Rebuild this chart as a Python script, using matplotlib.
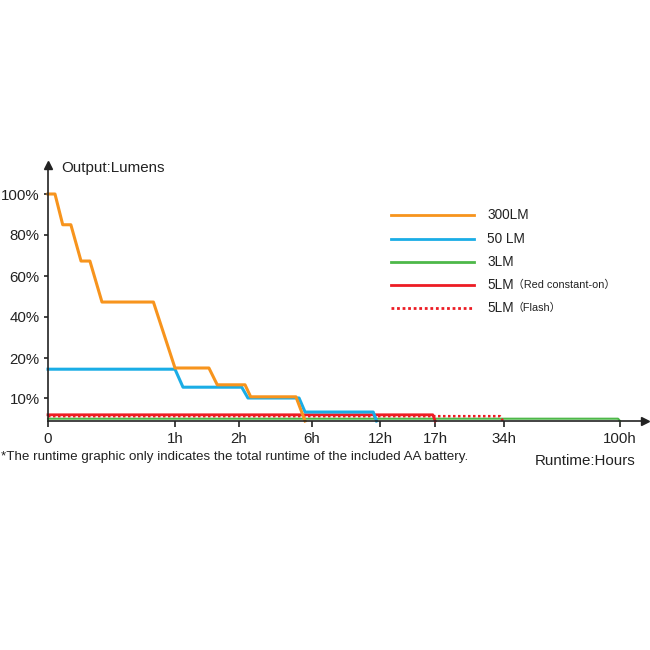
import matplotlib
matplotlib.use("Agg")
import matplotlib.pyplot as plt
from matplotlib.lines import Line2D
import numpy as np

plt.rcParams['font.family'] = ['Liberation Sans', 'DejaVu Sans']

# runtime curves, hours vs percent of max output
orange_h = [0, 0.055, 0.116, 0.18, 0.26, 0.33, 0.425, 0.83, 1.0, 1.53, 1.66, 2.33, 2.64, 5.12, 5.62]
orange_p = [100, 100, 85, 85, 67.3, 67.3, 47.3, 47.3, 17.5, 17.5, 13.3, 13.3, 10.3, 10.3, 0]

blue_h = [0, 1.0, 1.125, 2.15, 2.49, 5.29, 5.62, 11.4, 11.7]
blue_p = [17.2, 17.2, 12.7, 12.7, 10, 10, 3.9, 3.9, 0]

green_h = [0, 98.9, 100]
green_p = [1.0, 1.0, 0]

red_h = [0, 16.8, 17.05]
red_p = [2.7, 2.7, 0]

flash_h = [0, 33.0, 33.75]
flash_p = [2.1, 2.1, 0]

x_ticks = [0, 1, 2, 6, 12, 17, 34, 100]
x_labels = ['0', '1h', '2h', '6h', '12h', '17h', '34h', '100h']
y_ticks = [10, 20, 40, 60, 80, 100]
y_labels = ['10%', '20%', '40%', '60%', '80%', '100%']

legend_names = ['300LM', '50 LM', '3LM', '5LM', '5LM']
legend_notes = ['', '', '', '（Red constant-on）', '（Flash）']

# the picture uses uneven axis spacing, so piecewise scales
xh = np.array([0, 1, 2, 6, 12, 17, 34, 100, 200])
xpos = np.array([0, 127, 191, 264, 332, 387, 456, 572, 748])
yp = np.array([0, 10, 20, 40, 60, 80, 100, 200])
ypos = np.array([0, 23, 63, 104, 145, 186, 227, 432])

def xf(v):
    return np.interp(v, xh, xpos)
def xi(v):
    return np.interp(v, xpos, xh)
def yf(v):
    return np.interp(v, yp, ypos)
def yi(v):
    return np.interp(v, ypos, yp)

fig = plt.figure(figsize=(6.5, 6.5), dpi=100)
ax = fig.add_axes([48/650, (650-421)/650, 597/650, 256/650])
ax.set_xscale('function', functions=(xf, xi))
ax.set_yscale('function', functions=(yf, yi))
ax.set_xlim(0, xi(597))
ax.set_ylim(0, yi(256))

orange = '#F7941D'
blue = '#1AADE6'
green = '#4DB849'
red = '#ED1C24'

ax.plot(green_h, green_p, color=green, lw=1.5, clip_on=False)
ax.plot(flash_h, flash_p, color=red, lw=1.8, ls=(0, (1, 1)), clip_on=False)
ax.plot(red_h, red_p, color=red, lw=2.0, clip_on=False)
ax.plot(blue_h, blue_p, color=blue, lw=2.2, clip_on=False)
ax.plot(orange_h, orange_p, color=orange, lw=2.2, clip_on=False)

for s in ['top', 'right']:
    ax.spines[s].set_visible(False)
for s in ['left', 'bottom']:
    ax.spines[s].set_color('#222222')
    ax.spines[s].set_linewidth(1.2)
ax.plot([1], [0], '>', color='#222222', ms=6, transform=ax.transAxes, clip_on=False)
ax.plot([0], [1], '^', color='#222222', ms=6, transform=ax.transAxes, clip_on=False)

ax.set_xticks(x_ticks)
ax.set_xticklabels(x_labels)
ax.set_yticks(y_ticks)
ax.set_yticklabels(y_labels)
ax.minorticks_off()
ax.tick_params(axis='x', length=4, width=1.2, color='#222222', labelsize=10.8, pad=4, labelcolor='#222222')
ax.tick_params(axis='y', length=3, width=1.2, color='#222222', labelsize=10.8, pad=3, labelcolor='#222222')

fig.text(61/650, 1 - 168/650, 'Output:Lumens', fontsize=10.9, va='center', ha='left', color='#222222')
fig.text(535/650, 1 - 461/650, 'Runtime:Hours', fontsize=10.9, va='center', ha='left', color='#222222')
fig.text(1/650, 1 - 457/650, '*The runtime graphic only indicates the total runtime of the included AA battery.',
         fontsize=9.6, va='center', ha='left', color='#222222')

# legend drawn by hand
leg_colors = [orange, blue, green, red, red]
leg_styles = ['-', '-', '-', '-', (0, (1, 1))]
leg_y = [215, 239, 262, 285, 308]
for i in range(5):
    y = 1 - leg_y[i]/650
    fig.add_artist(Line2D([391/650, 474/650], [y, y], color=leg_colors[i], lw=2.0, ls=leg_styles[i]))
    fig.text(487/650, y, legend_names[i], fontsize=9.8, va='center', ha='left', color='#222222')
    if legend_notes[i]:
        fig.text(513/650, y, legend_notes[i], fontsize=7.8, va='center', ha='left', color='#222222',
                 family=['Liberation Sans', 'Noto Sans CJK SC'])

fig.savefig('out.png', dpi=100)
